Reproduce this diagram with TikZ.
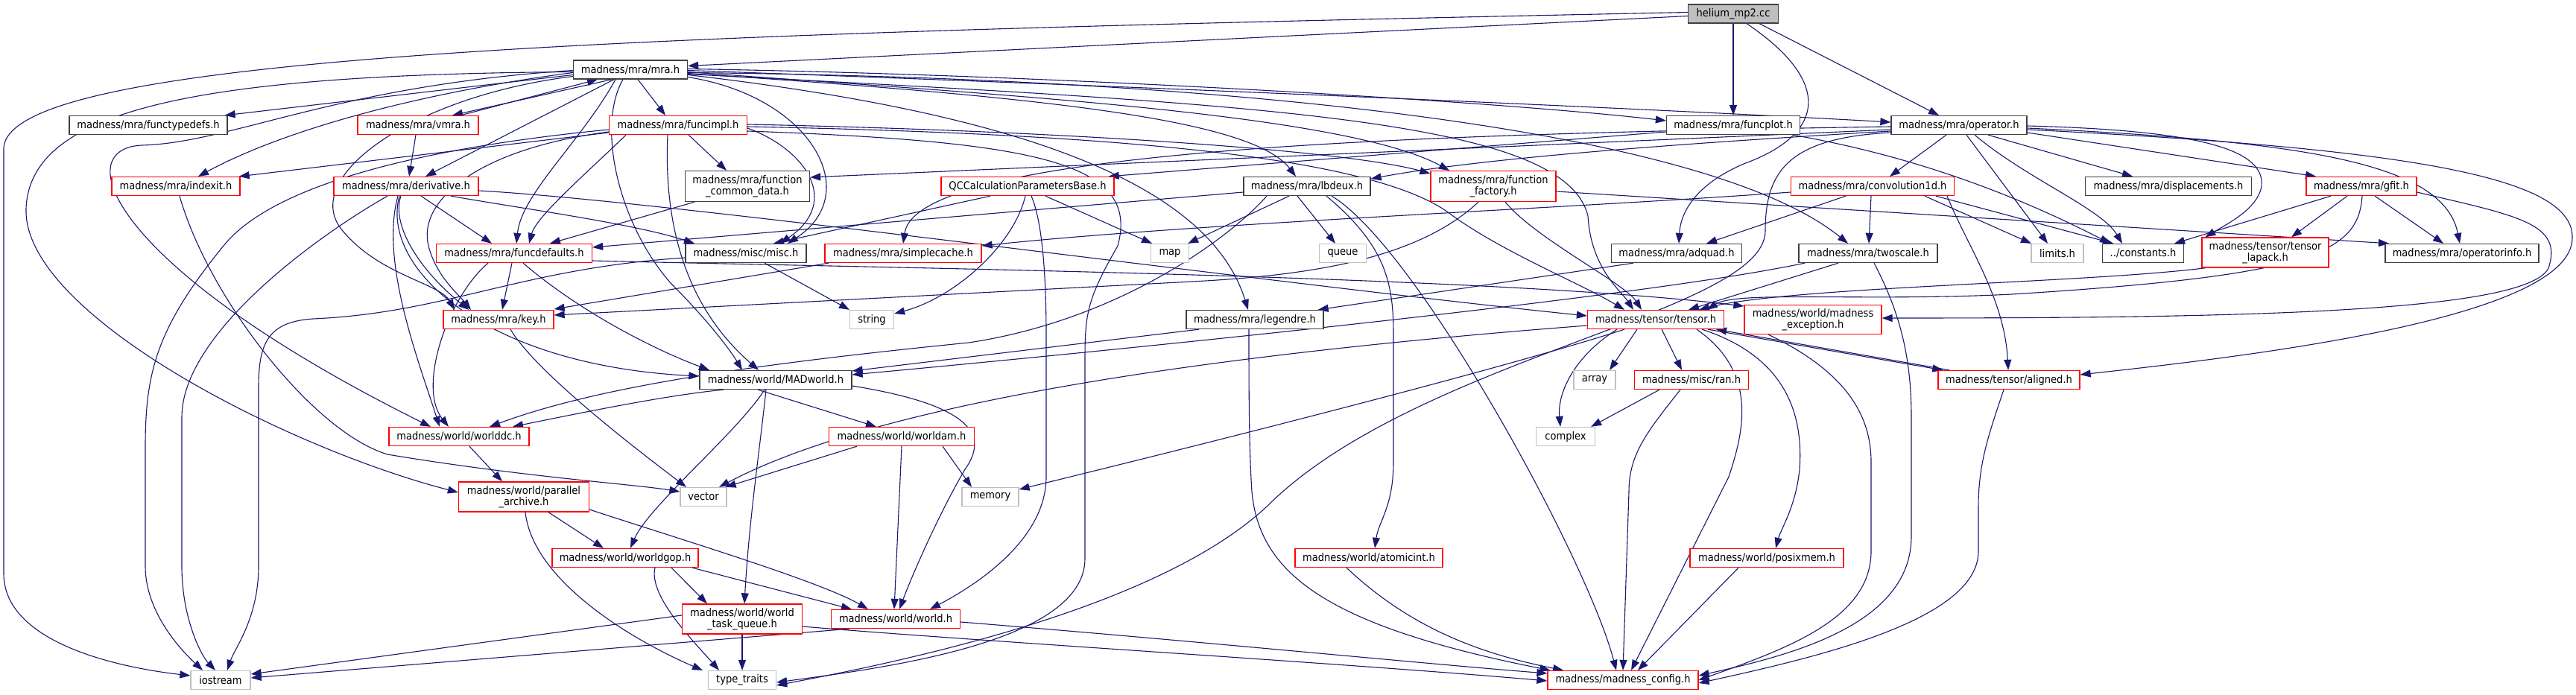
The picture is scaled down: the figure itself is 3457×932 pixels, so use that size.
\documentclass[tikz,border=0pt]{standalone}
\usepackage{fontspec}
\setmainfont{DejaVu Sans}[FakeStretch=0.9]
\usetikzlibrary{arrows.meta,backgrounds}
\definecolor{edgec}{RGB}{25,25,112}
\definecolor{nodegray}{RGB}{191,191,191}
\definecolor{nodedark}{RGB}{64,64,64}
\newcommand\dxfont{\fontsize{14.5}{15.5}\selectfont}
\tikzset{
  base/.style={rectangle, minimum height=25pt, inner sep=0pt, line width=1.3pt, fill=white, font=\dxfont, align=center},
  blk/.style={base, draw=nodedark},
  rd/.style={base, draw=red},
  gr/.style={base, draw=nodegray},
  rootn/.style={base, draw=nodedark, fill=nodegray},
  two/.style={minimum height=40pt},
  e/.style={draw=edgec, line width=1.1pt, -{Triangle[length=14pt,width=10pt]}}
}
\begin{document}
\begin{tikzpicture}[x=1pt,y=-1pt]
\useasboundingbox (0,0) rectangle (3457,932);
% nodes
\node[rootn,minimum width=121pt] (root) at (2326,18.5) {helium\_mp2.cc};
\node[blk,minimum width=153pt] (mra) at (846,93.5) {madness/mra/mra.h};
\node[blk,minimum width=212pt] (ftd) at (199,168) {madness/mra/functypedefs.h};
\node[rd,minimum width=162pt] (vmra) at (561,168) {madness/mra/vmra.h};
\node[rd,minimum width=185pt] (fimpl) at (910,168) {madness/mra/funcimpl.h};
\node[blk,minimum width=179pt] (fplot) at (2326,168) {madness/mra/funcplot.h};
\node[blk,minimum width=182pt] (oper) at (2629,168) {madness/mra/operator.h};
\node[rd,minimum width=172pt] (indexit) at (236,250) {madness/mra/indexit.h};
\node[rd,minimum width=194pt] (deriv) at (545,250) {madness/mra/derivative.h};
\node[blk,two,minimum width=167pt,minimum height=41pt] (fcd) at (1003,250) {madness/mra/function\\\_common\_data.h};
\node[rd,minimum width=232pt] (qcc) at (1379,250) {QCCalculationParametersBase.h};
\node[blk,minimum width=170pt] (lbdeux) at (1754,250) {madness/mra/lbdeux.h};
\node[rd,two,minimum width=168pt,minimum height=41pt] (ffac) at (2004,250) {madness/mra/function\\\_factory.h};
\node[rd,minimum width=219pt] (conv) at (2513,250) {madness/mra/convolution1d.h};
\node[blk,minimum width=223pt] (disp) at (2910,250) {madness/mra/displacements.h};
\node[rd,minimum width=148pt] (gfit) at (3169,250) {madness/mra/gfit.h};
\node[rd,minimum width=209pt] (fdef) at (690,340) {madness/mra/funcdefaults.h};
\node[blk,minimum width=162pt] (misc) at (1001,340) {madness/misc/misc.h};
\node[rd,minimum width=210pt] (scache) at (1212,340) {madness/mra/simplecache.h};
\node[gr,minimum width=51pt] (map) at (1570,340) {map};
\node[gr,minimum width=63pt] (queue) at (1802,340) {queue};
\node[blk,minimum width=175pt] (adquad) at (2250,340) {madness/mra/adquad.h};
\node[blk,minimum width=186pt] (twoscale) at (2507,340) {madness/mra/twoscale.h};
\node[gr,minimum width=70pt] (limits) at (2761,340) {limits.h};
\node[blk,minimum width=109pt] (consts) at (2876,340) {../constants.h};
\node[rd,two,minimum width=170pt] (tlapack) at (3040,339) {madness/tensor/tensor\\\_lapack.h};
\node[blk,minimum width=206pt] (opinfo) at (3304,340) {madness/mra/operatorinfo.h};
\node[rd,minimum width=148pt] (key) at (669,429) {madness/mra/key.h};
\node[gr,minimum width=59pt] (string) at (1170,429) {string};
\node[blk,minimum width=184pt] (legendre) at (1684,429) {madness/mra/legendre.h};
\node[rd,minimum width=183pt] (tensor) at (2222,429) {madness/tensor/tensor.h};
\node[rd,two,minimum width=184pt,minimum height=39pt] (mexc) at (2433,429) {madness/world/madness\\\_exception.h};
\node[blk,minimum width=204pt] (madworld) at (1041,510) {madness/world/MADworld.h};
\node[gr,minimum width=56pt] (array) at (2140,510) {array};
\node[rd,minimum width=153pt] (ran) at (2270,510) {madness/misc/ran.h};
\node[rd,minimum width=190pt] (aligned) at (2696,510) {madness/tensor/aligned.h};
\node[rd,minimum width=188pt] (worlddc) at (616,586) {madness/world/worlddc.h};
\node[rd,minimum width=195pt] (worldam) at (1210,586) {madness/world/worldam.h};
\node[gr,minimum width=79pt] (complex) at (2101,586) {complex};
\node[rd,two,minimum width=175pt] (parch) at (703,667) {madness/world/parallel\\\_archive.h};
\node[gr,minimum width=62pt] (vector) at (944,667) {vector};
\node[gr,minimum width=76pt] (memory) at (1329,667) {memory};
\node[rd,minimum width=196pt] (worldgop) at (839,749) {madness/world/worldgop.h};
\node[rd,minimum width=198pt] (atomicint) at (1837,749) {madness/world/atomicint.h};
\node[rd,minimum width=206pt] (posixmem) at (2371,749) {madness/world/posixmem.h};
\node[rd,two,minimum width=161pt] (wtq) at (996,831) {madness/world/world\\\_task\_queue.h};
\node[rd,minimum width=173pt] (world) at (1202,831) {madness/world/world.h};
\node[gr,minimum width=80pt] (iostream) at (296,913) {iostream};
\node[gr,minimum width=91pt] (ttraits) at (996,913) {type\_traits};
\node[rd,minimum width=202pt] (mconfig) at (2178,913) {madness/madness\_config.h};
\begin{pgfonlayer}{background}
\fill[white] (0,0) rectangle (3457,932);
% edges: helium
\draw[e] ([yshift=-3]root.west) -- ([yshift=5]mra.east);
\draw[e] ([yshift=2]root.west) .. controls (900,45) and (5,70) .. (5,200) -- (5,770) .. controls (5,860) and (150,895) .. ([yshift=6]iostream.west);
\draw[e] (root.south) -- (fplot.north);
\draw[e] ([xshift=35]root.south) -- ([xshift=-27]oper.north);
\draw[e] ([xshift=18]root.south) .. controls (2460,110) and (2450,180) .. (2340,220) .. controls (2270,250) and (2255,290) .. ([xshift=3]adquad.north);
% mra
\draw[e] ([yshift=-7]mra.west) -- ([xshift=-4]ftd.north east);
\draw[e] ([xshift=-25]mra.south) -- ([xshift=46]vmra.north);
\draw[e] ([xshift=57]vmra.north) -- ([xshift=-44]mra.south);
\draw[e] ([yshift=-4]mra.west) .. controls (560,125) and (380,175) .. ([xshift=30]indexit.north);
\draw[e] ([xshift=-22]mra.south) -- ([xshift=26]deriv.north);
\draw[e] ([xshift=10]mra.south) -- ([xshift=-17]fimpl.north);
\draw[e] ([yshift=-3]mra.west) .. controls (250,100) and (40,150) .. (35,280) .. controls (30,420) and (380,600) .. ([yshift=6]parch.west);
\draw[e] ([yshift=-1]mra.west) .. controls (450,115) and (310,192) .. (190,195) .. controls (90,200) and (150,360) .. ([xshift=-38]worlddc.north);
\draw[e] ([yshift=-9]mra.west) .. controls (550,130) and (400,240) .. (460,310) .. controls (510,370) and (590,380) .. ([xshift=-59]key.north);
\draw[e] ([xshift=-20]mra.south) .. controls (780,190) and (700,260) .. ([xshift=3]fdef.north);
\draw[e] ([xshift=-10]mra.south) .. controls (800,170) and (830,300) .. (900,380) .. controls (950,430) and (980,470) .. ([xshift=-45]madworld.north);
\draw[e] ([yshift=-10]mra.east) .. controls (1090,130) and (1160,260) .. ([xshift=56]misc.north);
\draw[e] ([yshift=-7]mra.east) .. controls (1350,150) and (1620,240) .. ([xshift=-9]legendre.north);
\draw[e] ([yshift=1]mra.east) .. controls (1400,100) and (2000,135) .. ([yshift=6]fplot.west);
\draw[e] ([yshift=-1]mra.east) .. controls (1500,115) and (2200,145) .. ([yshift=4]oper.west);
\draw[e] ([yshift=-3]mra.east) .. controls (1300,125) and (1800,150) .. ([xshift=-59]ffac.north);
\draw[e] ([yshift=-5]mra.east) .. controls (1400,130) and (1680,160) .. ([xshift=-15]lbdeux.north);
\draw[e] ([yshift=-4]mra.east) .. controls (1700,105) and (2300,180) .. ([xshift=-27]twoscale.north);
\draw[e] ([yshift=-6]mra.east) .. controls (1700,140) and (2100,160) .. (2131,290) .. controls (2135,360) and (2175,390) .. ([xshift=-30]tensor.north);
% vmra
\draw[e] ([xshift=-3]vmra.south) -- ([xshift=4]deriv.north);
% derivative
\draw[e] ([xshift=20]deriv.south) -- ([xshift=-30]fdef.north);
\draw[e] ([xshift=-7]deriv.south) .. controls (525,300) and (560,360) .. ([xshift=-40]key.north);
\draw[e] ([xshift=-9]deriv.south) .. controls (510,360) and (650,490) .. ([yshift=5]madworld.west);
\draw[e] ([xshift=-11]deriv.south) .. controls (510,350) and (560,480) .. ([xshift=-26]worlddc.north);
\draw[e] ([xshift=-25]deriv.south) .. controls (420,320) and (244,450) .. (244,560) -- (244,760) .. controls (244,830) and (270,880) .. ([xshift=-7]iostream.north);
\draw[e] ([xshift=60]deriv.south) .. controls (700,280) and (850,300) .. ([xshift=-69]misc.north);
\draw[e] ([yshift=-6]deriv.east) .. controls (900,270) and (1700,380) .. ([yshift=5]tensor.west);
% funcimpl
\draw[e] ([yshift=-10]fimpl.west) -- ([xshift=-2]indexit.north east);
\draw[e] ([xshift=14]fimpl.south) -- ([xshift=-28]fcd.north);
\draw[e] ([xshift=-70]fimpl.south) .. controls (790,230) and (720,290) .. ([xshift=20]fdef.north);
\draw[e] ([yshift=-9]fimpl.west) .. controls (640,200) and (560,270) .. (575,330) .. controls (585,370) and (615,395) .. ([xshift=-37]key.north);
\draw[e] ([yshift=-4]fimpl.east) .. controls (1080,200) and (1130,270) .. ([xshift=46]misc.north);
\draw[e] ([xshift=-14]fimpl.south) .. controls (890,320) and (930,420) .. ([xshift=-23]madworld.north);
\draw[e] ([yshift=-6]fimpl.west) .. controls (650,190) and (380,230) .. (300,330) .. controls (210,440) and (195,500) .. (195,600) -- (195,760) .. controls (195,820) and (240,870) .. ([xshift=-24]iostream.north);
\draw[e] ([yshift=-2]fimpl.east) .. controls (1500,180) and (1850,210) .. (1950,290) .. controls (2020,340) and (2120,380) .. ([xshift=-42]tensor.north);
\draw[e] ([yshift=1]fimpl.east) .. controls (1400,175) and (1800,200) .. ([yshift=17]ffac.west);
\draw[e] ([yshift=-8]fimpl.east) .. controls (1400,190) and (1530,220) .. (1500,330) .. controls (1460,400) and (1456,420) .. (1456,480) -- (1456,750) .. controls (1456,860) and (1200,895) .. ([yshift=-3]ttraits.east);
\draw[e] ([xshift=-71]fcd.south) -- ([xshift=48]fdef.north);
% QCC
\draw[e] ([xshift=-50]qcc.south) -- ([xshift=37]misc.north);
\draw[e] ([xshift=-3]qcc.south) .. controls (1360,330) and (1280,400) .. ([yshift=8]string.east);
\draw[e] ([xshift=5]qcc.south) .. controls (1400,300) and (1404,380) .. (1404,450) -- (1404,640) .. controls (1404,720) and (1320,780) .. ([xshift=46]world.north);
\draw[e] ([xshift=24]qcc.south) -- ([xshift=-24]map.north);
% funcplot
\draw[e] ([yshift=-9]fplot.west) -- ([xshift=-8]qcc.north east);
\draw[e] ([xshift=80]fplot.south) .. controls (2600,215) and (2740,280) .. ([xshift=-44]consts.north);
% operator
\draw[e] ([yshift=-6]oper.west) -- ([yshift=12]fcd.east);
\draw[e] ([yshift=-2]oper.west) .. controls (1900,180) and (1230,200) .. (scache.north);
\draw[e] ([yshift=-8]oper.west) .. controls (2300,190) and (2000,210) .. ([yshift=10]lbdeux.east);
\draw[e] ([xshift=-17]oper.south) -- ([xshift=23]conv.north);
\draw[e] ([xshift=39]oper.south) -- ([xshift=-48]disp.north);
\draw[e] ([yshift=-10]oper.east) -- ([xshift=-61]gfit.north);
\draw[e] ([xshift=10]oper.south) -- ([xshift=-13]limits.north);
\draw[e] ([xshift=21]oper.south) .. controls (2720,240) and (2820,280) .. ([xshift=-28]consts.north);
\draw[e] ([yshift=-1]oper.east) .. controls (2950,175) and (3040,200) .. (3035,250) .. controls (3030,280) and (2990,300) .. ([xshift=5]tlapack.north west);
\draw[e] ([yshift=-4]oper.east) .. controls (3100,190) and (3280,220) .. ([xshift=-3]opinfo.north);
\draw[e] ([yshift=-6]oper.east) .. controls (3250,200) and (3455,240) .. (3452,320) .. controls (3450,430) and (3000,480) .. ([yshift=7]aligned.east);
\draw[e] ([yshift=-10]oper.west) .. controls (2400,185) and (2369,230) .. (2369,310) .. controls (2369,420) and (1900,480) .. (1700,680) .. controls (1550,820) and (1200,890) .. ([yshift=-7]ttraits.east);
% convolution1d
\draw[e] ([yshift=-8]conv.west) .. controls (2100,280) and (1600,300) .. ([yshift=10]scache.east);
\draw[e] ([xshift=-36]conv.south) -- ([xshift=40]adquad.north);
\draw[e] ([xshift=-2]conv.south) -- ([xshift=1]twoscale.north);
\draw[e] ([xshift=70]conv.south) -- ([xshift=-35]limits.north);
\draw[e] ([xshift=85]conv.south) -- ([xshift=-40]consts.north);
\draw[e] ([xshift=100]conv.south) .. controls (2640,330) and (2690,400) .. ([xshift=-1]aligned.north);
% function_factory
\draw[e] ([xshift=-20]ffac.south) .. controls (1900,350) and (1750,370) .. (1600,378) -- ([yshift=6]key.east);
\draw[e] ([xshift=16]ffac.south) .. controls (2060,320) and (2180,380) .. ([xshift=-19]tensor.north);
\draw[e] ([yshift=-7]ffac.east) -- ([xshift=-98]opinfo.north);
% lbdeux
\draw[e] ([yshift=-8]lbdeux.west) -- ([yshift=8]fdef.east);
\draw[e] ([xshift=-24]lbdeux.south) -- ([xshift=-2]map.north east);
\draw[e] ([xshift=-13]lbdeux.south) -- ([xshift=-10]queue.north);
\draw[e] ([xshift=26]lbdeux.south) .. controls (1860,330) and (1870,380) .. (1870,450) -- (1870,620) .. controls (1870,680) and (1850,700) .. ([xshift=8]atomicint.north);
\draw[e] ([xshift=33]lbdeux.south) .. controls (1900,330) and (2130,750) .. ([xshift=-9]mconfig.north);
\draw[e] ([xshift=-54]lbdeux.south) .. controls (1650,320) and (1500,430) .. (1300,460) .. controls (1000,490) and (800,520) .. ([xshift=41]worlddc.north);
% gfit
\draw[e] ([xshift=-41]gfit.south) -- ([xshift=42]consts.north);
\draw[e] ([xshift=-19]gfit.south) -- ([xshift=35]tlapack.north);
\draw[e] ([xshift=18]gfit.south) -- ([xshift=-25]opinfo.north);
\draw[e] ([xshift=1]gfit.south) .. controls (3165,340) and (3100,370) .. (2700,395) .. controls (2500,405) and (2330,390) .. ([xshift=69]tensor.north);
\draw[e] ([yshift=-8]gfit.east) .. controls (3380,290) and (3440,300) .. (3420,360) .. controls (3390,420) and (3000,427) .. ([yshift=2]mexc.east);
% tensor_lapack
\draw[e] ([xshift=-80]tlapack.south) .. controls (2800,380) and (2400,385) .. ([xshift=58]tensor.north);
% funcdefaults
\draw[e] ([xshift=-3]fdef.south) -- ([xshift=5]key.north);
\draw[e] ([xshift=-35]fdef.south) .. controls (600,400) and (560,520) .. ([xshift=-14]worlddc.north);
\draw[e] ([xshift=12]fdef.south) .. controls (780,420) and (880,470) .. ([xshift=-89]madworld.north);
\draw[e] ([yshift=-10]fdef.east) .. controls (1200,360) and (2000,370) .. ([yshift=18]mexc.west);
% misc
\draw[e] ([xshift=25]misc.south) -- ([xshift=-30]string.north);
\draw[e] ([yshift=-6]misc.west) .. controls (700,360) and (600,420) .. (420,428) .. controls (360,432) and (347,460) .. (347,520) -- (347,760) .. controls (347,830) and (315,870) .. ([xshift=9]iostream.north);
% simplecache, key, indexit
\draw[e] ([xshift=-100]scache.south) -- ([yshift=14]key.east);
\draw[e] ([xshift=16]key.south) .. controls (720,500) and (850,600) .. ([xshift=-23]vector.north);
\draw[e] ([xshift=5]indexit.south) .. controls (280,400) and (420,580) .. (520,610) .. controls (700,640) and (850,650) .. ([yshift=7]vector.west);
% legendre, adquad, twoscale
\draw[e] ([xshift=-75]legendre.south) -- ([yshift=12]madworld.east);
\draw[e] ([xshift=-8]legendre.south) .. controls (1676,520) and (1676,600) .. (1680,660) .. controls (1690,770) and (1780,840) .. ([xshift=4]mconfig.north west);
\draw[e] ([xshift=-58]adquad.south) -- ([xshift=-8]legendre.north east);
\draw[e] ([xshift=-40]twoscale.south) -- ([xshift=44]tensor.north);
\draw[e] ([xshift=-85]twoscale.south) .. controls (2200,400) and (1500,470) .. ([yshift=7]madworld.east);
\draw[e] ([xshift=8]twoscale.south) .. controls (2550,420) and (2565,480) .. (2565,560) -- (2565,720) .. controls (2565,840) and (2400,880) .. ([yshift=6]mconfig.east);
% tensor
\draw[e] ([xshift=-25]tensor.south) -- ([xshift=20]array.north);
\draw[e] ([xshift=8]tensor.south) -- ([xshift=-13]ran.north);
\draw[e] ([xshift=-52]tensor.south) .. controls (2110,480) and (2090,530) .. ([xshift=-7]complex.north);
\draw[e] ([xshift=62]tensor.south) .. controls (2400,480) and (2420,560) .. (2415,630) .. controls (2410,680) and (2390,710) .. ([xshift=12]posixmem.north);
\draw[e] ([xshift=55]tensor.south) .. controls (2360,500) and (2340,580) .. (2320,640) -- ([xshift=11]mconfig.north);
\draw[e] ([xshift=70]tensor.south) -- ([xshift=7]aligned.north west);
\draw[e] ([xshift=-80]aligned.north) -- ([xshift=81]tensor.south);
\draw[e] ([xshift=-42]tensor.south) .. controls (2000,500) and (1600,600) .. ([yshift=10]memory.east);
\draw[e] ([yshift=-8]tensor.west) .. controls (1700,470) and (1200,530) .. ([xshift=21]vector.north);
% ran, mexc, aligned, posixmem, atomicint
\draw[e] ([xshift=-43]ran.south) -- ([xshift=-6]complex.north east);
\draw[e] ([xshift=-15]ran.south) .. controls (2210,580) and (2186,610) .. (2186,660) -- (mconfig.north);
\draw[e] ([xshift=-60]mexc.south) .. controls (2480,500) and (2511,560) .. (2511,620) -- (2511,740) .. controls (2511,830) and (2400,870) .. (mconfig.east);
\draw[e] ([xshift=-7]aligned.south) .. controls (2670,580) and (2655,620) .. (2655,680) -- (2655,740) .. controls (2655,830) and (2450,880) .. ([yshift=-4]mconfig.east);
\draw[e] ([xshift=-38]posixmem.south) -- ([xshift=20]mconfig.north);
\draw[e] ([xshift=-30]atomicint.south) .. controls (1900,850) and (2000,880) .. ([xshift=-80]mconfig.north);
% MADworld
\draw[e] ([xshift=-70]madworld.south) .. controls (900,530) and (800,550) .. ([xshift=72]worlddc.north);
\draw[e] ([xshift=-24]madworld.south) -- ([xshift=-34]worldam.north);
\draw[e] ([xshift=-15]madworld.south) .. controls (990,580) and (870,680) .. ([xshift=7]worldgop.north);
\draw[e] ([xshift=-13]madworld.south) .. controls (1020,600) and (1005,700) .. ([xshift=3]wtq.north);
\draw[e] ([yshift=-8]madworld.east) .. controls (1280,540) and (1335,575) .. (1295,630) .. controls (1260,690) and (1225,770) .. ([xshift=5]world.north);
% worlddc, parallel_archive, worldgop, worldam
\draw[e] ([xshift=14]worlddc.south) -- ([xshift=-29]parch.north);
\draw[e] ([xshift=33]parch.south) -- ([xshift=-29]worldgop.north);
\draw[e] ([yshift=-17]parch.east) .. controls (900,720) and (1100,780) .. ([xshift=-37]world.north);
\draw[e] ([xshift=2]parch.south) .. controls (715,780) and (850,860) .. ([xshift=-53]ttraits.north);
\draw[e] ([xshift=62]worldgop.south) -- ([xshift=-47]wtq.north);
\draw[e] ([xshift=90]worldgop.south) -- ([xshift=-59]world.north);
\draw[e] ([xshift=40]worldgop.south) .. controls (870,800) and (930,860) .. ([xshift=-31]ttraits.north);
\draw[e] ([xshift=-60]worldam.south) -- ([xshift=-2]vector.north east);
\draw[e] ([xshift=55]worldam.south) -- ([xshift=-25]memory.north);
\draw[e] (worldam.south) -- ([xshift=-2]world.north);
% task queue, world
\draw[e] ([yshift=5]wtq.west) -- ([yshift=8]iostream.east);
\draw[e] (wtq.south) -- (ttraits.north);
\draw[e] ([yshift=-10]wtq.east) .. controls (1300,860) and (1800,890) .. ([yshift=-1]mconfig.west);
\draw[e] ([xshift=-62]world.south) -- ([yshift=3]iostream.east);
\draw[e] ([yshift=-4]world.east) .. controls (1600,860) and (1900,890) .. ([yshift=9]mconfig.west);
\end{pgfonlayer}
\end{tikzpicture}
\end{document}
